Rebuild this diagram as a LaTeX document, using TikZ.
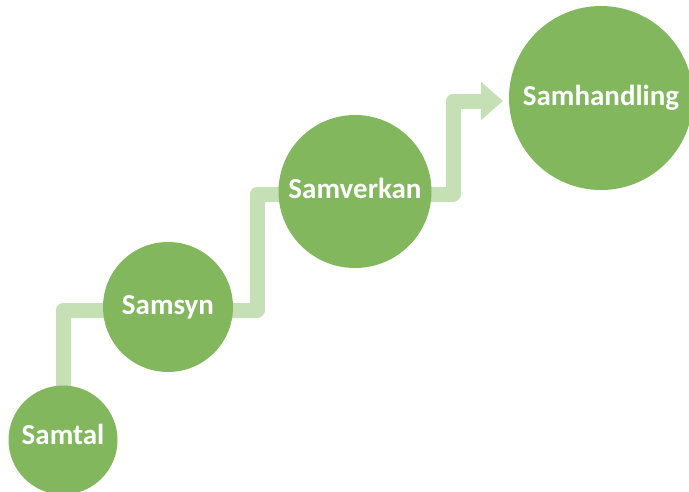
\documentclass[tikz,border=0pt]{standalone}
\usepackage{fontspec}
\setmainfont{Carlito}
\usetikzlibrary{arrows.meta,backgrounds}
\definecolor{circgreen}{RGB}{130,183,94}
\definecolor{pathgreen}{RGB}{197,224,180}
\tikzset{
  stage/.style={circle, fill=circgreen, draw=none, text=white, inner sep=0pt,
    font=\fontsize{29}{32}\selectfont\bfseries},
  flow/.style={draw=pathgreen, line width=15pt, line join=round}
}
\begin{document}
\begin{tikzpicture}[x=1pt,y=-1pt]
\useasboundingbox (0,0) rectangle (689,491);
\clip (0,0) rectangle (689,491);
\node[stage, minimum size=109pt, text depth=12pt] (samtal) at (63,440) {Samtal};
\node[stage, minimum size=130pt] (samsyn) at (168,307) {Samsyn};
\node[stage, minimum size=153pt, text depth=6pt] (samverkan) at (355,191.5) {Samverkan};
\node[stage, minimum size=184pt] (samhandling) at (601,98) {Samhandling};
\coordinate (c1) at (63,310);
\coordinate (c2) at (257,194);
\coordinate (c3) at (453,101);
\coordinate (tip) at (503,101);
\begin{scope}[on background layer]
\draw[flow] (samtal.center) -- (c1) -- (c1 -| samsyn.center);
\draw[flow] (c1 -| samsyn.center) -| (c2) -- (c2 -| samverkan.center);
\draw[flow, -{Triangle[length=22pt,width=37pt]}] (c2 -| samverkan.center) -| (c3) -- (tip);
\end{scope}
\end{tikzpicture}
\end{document}
